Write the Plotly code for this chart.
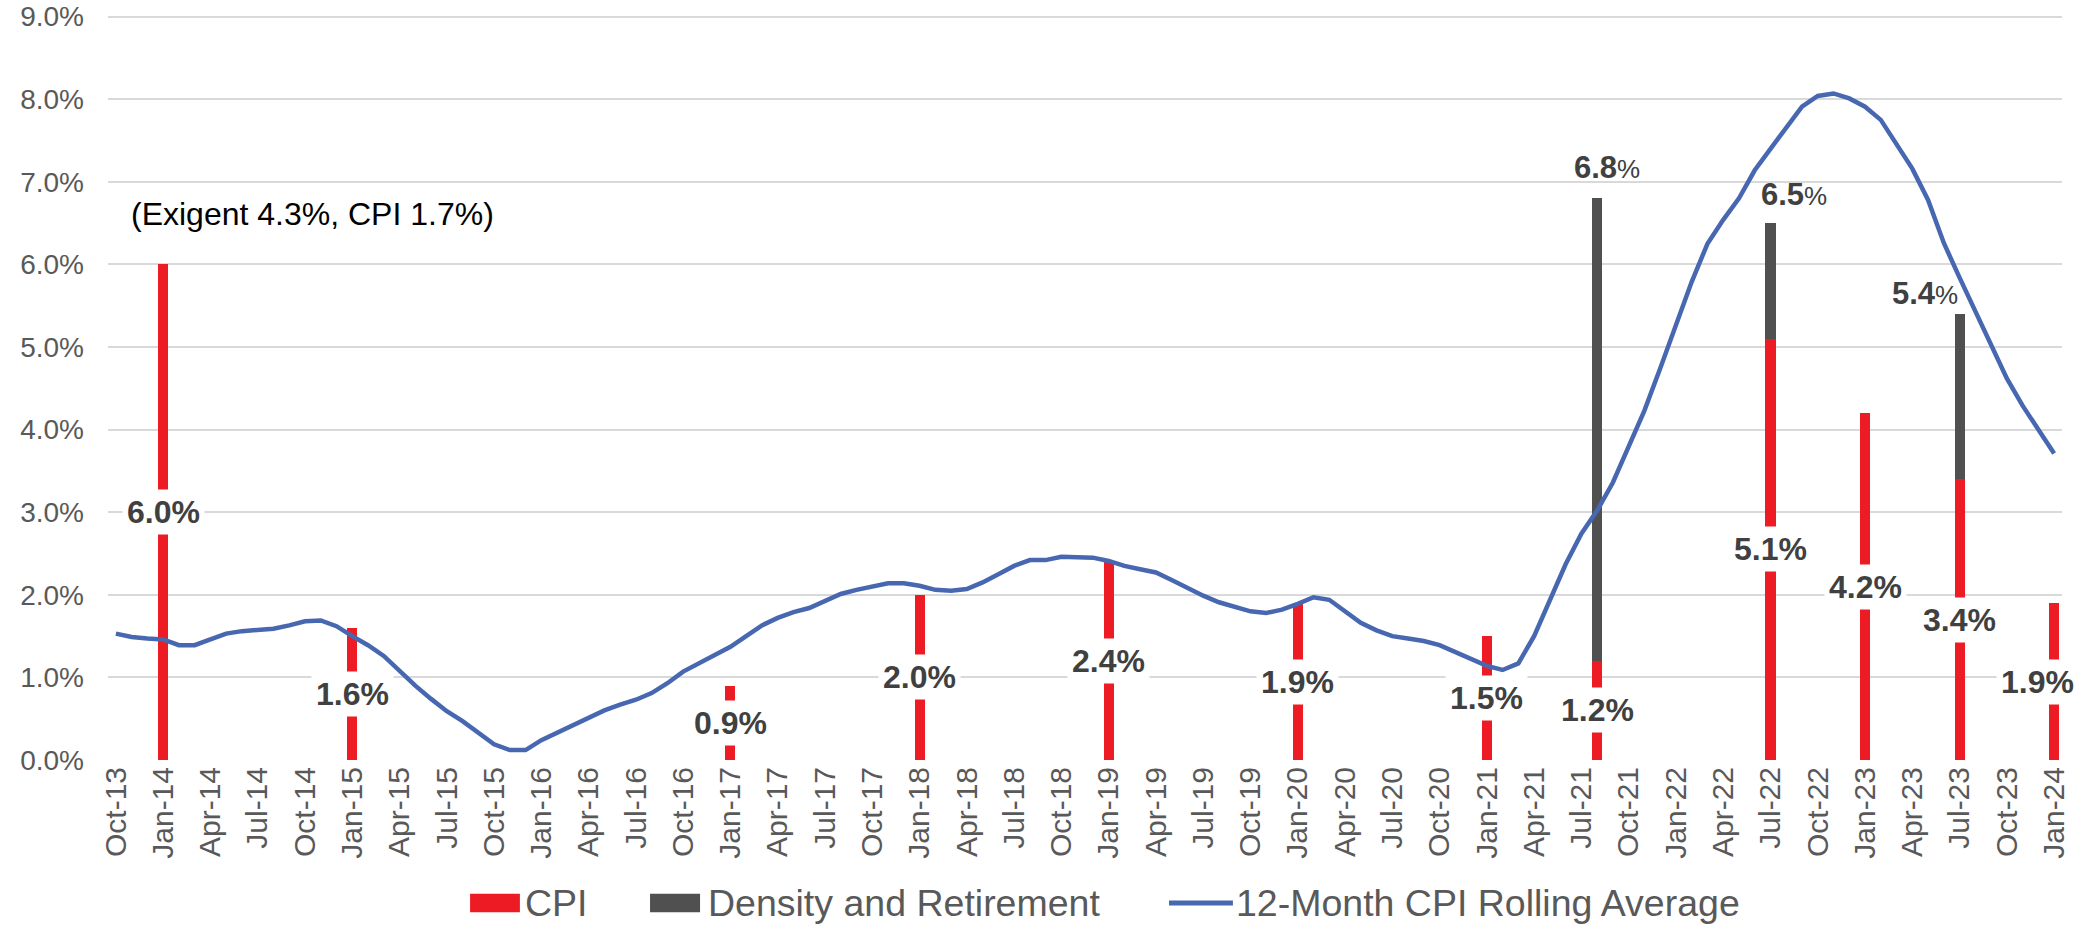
import pandas as pd
import plotly.graph_objects as go

# ---- categories ----
months = list(pd.date_range("2013-10-01", "2024-01-01", freq="MS").strftime("%b-%y"))
tick_months = months[::3]

# ---- y ticks ----
y_tick_values = [0, 1, 2, 3, 4, 5, 6, 7, 8, 9]
y_tick_labels = ["0.0%", "1.0%", "2.0%", "3.0%", "4.0%", "5.0%", "6.0%", "7.0%", "8.0%", "9.0%"]

# ---- 12-month CPI rolling average (Oct-13 .. Jan-24), percent ----
rolling_avg = [
    1.53, 1.49, 1.47,                                                       # 2013 Oct-Dec
    1.46, 1.39, 1.39, 1.46, 1.53, 1.56, 1.57, 1.59, 1.63, 1.68, 1.69, 1.62,  # 2014
    1.50, 1.39, 1.26, 1.08, 0.90, 0.74, 0.59, 0.47, 0.33, 0.19, 0.12, 0.12,  # 2015
    0.24, 0.33, 0.41, 0.51, 0.60, 0.67, 0.73, 0.81, 0.93, 1.07, 1.17, 1.28,  # 2016
    1.37, 1.50, 1.63, 1.72, 1.79, 1.84, 1.93, 2.01, 2.06, 2.10, 2.14, 2.14,  # 2017
    2.11, 2.06, 2.05, 2.07, 2.15, 2.25, 2.35, 2.42, 2.42, 2.46, 2.46, 2.45,  # 2018
    2.41, 2.35, 2.31, 2.27, 2.18, 2.08, 1.99, 1.91, 1.85, 1.80, 1.78, 1.82,  # 2019
    1.89, 1.97, 1.94, 1.80, 1.66, 1.57, 1.50, 1.47, 1.44, 1.39, 1.31, 1.23,  # 2020
    1.14, 1.09, 1.17, 1.50, 1.93, 2.37, 2.74, 3.02, 3.36, 3.81, 4.23, 4.74,  # 2021
    5.26, 5.79, 6.25, 6.54, 6.80, 7.14, 7.40, 7.65, 7.91, 8.04, 8.07, 8.01,  # 2022
    7.91, 7.75, 7.45, 7.16, 6.78, 6.26, 5.84, 5.44, 5.02, 4.62, 4.29, 4.01,  # 2023
    3.71,                                                                   # 2024 Jan
]

# ---- bars ----
cpi_months = ["Jan-14", "Jan-15", "Jan-17", "Jan-18", "Jan-19", "Jan-20",
              "Jan-21", "Aug-21", "Jul-22", "Jan-23", "Jul-23", "Jan-24"]
cpi_values = [6.0, 1.6, 0.9, 2.0, 2.4, 1.9, 1.5, 1.2, 5.1, 4.2, 3.4, 1.9]

density_months = ["Aug-21", "Jul-22", "Jul-23"]
density_values = [5.6, 1.4, 2.0]

series_names = ["CPI", "Density and Retirement", "12-Month CPI Rolling Average"]
note_text = "(Exigent 4.3%, CPI 1.7%)"

RED = "#ED1C24"
GRAY = "#505050"
BLUE = "#4767B1"
LABEL = "#404040"
TICK = "#595959"
FONT = "Liberation Sans, Arial, sans-serif"

fig = go.Figure()
fig.add_trace(go.Bar(x=cpi_months, y=cpi_values, name=series_names[0],
                     marker=dict(color=RED, line=dict(width=0)), width=0.64,
                     showlegend=False))
fig.add_trace(go.Bar(x=density_months, y=density_values, name=series_names[1],
                     marker=dict(color=GRAY, line=dict(width=0)), width=0.64,
                     showlegend=False))
fig.add_trace(go.Scatter(x=months, y=rolling_avg, mode="lines",
                         name=series_names[2], showlegend=False,
                         line=dict(color=BLUE, width=4.5)))

annotations = []
# CPI labels centred in their bars, white background
for m, v in zip(cpi_months, cpi_values):
    annotations.append(dict(
        x=m, y=v / 2, xref="x", yref="y", showarrow=False,
        text=f"<b>{v:.1f}%</b>", bgcolor="white", borderpad=4,
        font=dict(family=FONT, size=32, color=LABEL),
        xshift=-17 if m == months[-1] else 0,
    ))

# total labels above stacked bars
cpi_lookup = dict(zip(cpi_months, cpi_values))
total_shift = {"Aug-21": (10, 11), "Jul-22": (24, 9), "Jul-23": (-35, 1)}
for m, d in zip(density_months, density_values):
    tot = cpi_lookup[m] + d
    xs, ys = total_shift[m]
    annotations.append(dict(
        x=m, y=tot, xref="x", yref="y", showarrow=False, yanchor="bottom",
        text=f"<b>{tot:.1f}</b><span style='font-size:26px'>%</span>",
        font=dict(family=FONT, size=31, color=LABEL),
        xshift=xs, yshift=ys,
    ))

annotations.append(dict(
    x=0.0107, y=6.61, xref="paper", yref="y", xanchor="left", yanchor="middle",
    showarrow=False, text=note_text,
    font=dict(family=FONT, size=32, color="#000000"),
))

# ---- legend (drawn below the plot) ----
LEG_Y = -0.1919
shapes = [
    dict(type="rect", xref="paper", yref="paper", x0=0.1853, x1=0.2108,
         y0=LEG_Y - 0.0125, y1=LEG_Y + 0.0125, fillcolor=RED, line=dict(width=0)),
    dict(type="rect", xref="paper", yref="paper", x0=0.2774, x1=0.3030,
         y0=LEG_Y - 0.0125, y1=LEG_Y + 0.0125, fillcolor=GRAY, line=dict(width=0)),
    dict(type="line", xref="paper", yref="paper", x0=0.5430, x1=0.5757,
         y0=LEG_Y, y1=LEG_Y, line=dict(color=BLUE, width=5)),
]
for name, xpos in zip(series_names, [0.2124, 0.3060, 0.5763]):
    annotations.append(dict(
        x=xpos, y=LEG_Y, xref="paper", yref="paper", xanchor="left", yanchor="middle",
        showarrow=False, text=name, font=dict(family=FONT, size=37.5, color=TICK),
    ))

fig.update_layout(
    width=2090, height=925,
    margin=dict(l=108, r=28, t=15, b=165, autoexpand=False),
    paper_bgcolor="white", plot_bgcolor="white",
    barmode="stack",
    font=dict(family=FONT, color=TICK),
    showlegend=False,
    annotations=annotations,
    shapes=shapes,
)
fig.update_xaxes(type="category", categoryorder="array", categoryarray=months,
                 range=[-0.5, len(months) - 0.5], automargin=False,
                 tickmode="array", tickvals=tick_months, ticktext=tick_months,
                 tickangle=-90, tickfont=dict(family=FONT, size=30, color=TICK),
                 showgrid=False, showline=False, ticks="", zeroline=False)
fig.update_yaxes(range=[0, 9.02], tickmode="array",
                 tickvals=y_tick_values, ticktext=y_tick_labels,
                 automargin=False, ticklabeloverflow="allow",
                 tickfont=dict(family=FONT, size=28, color=TICK),
                 showgrid=True, gridcolor="#D9D9D9", gridwidth=1.5,
                 zeroline=False, showline=False, ticks="", ticklabelstandoff=23)

fig.write_html("out.html", config={"displayModeBar": False},
               post_script="document.body.style.margin='0px';")
